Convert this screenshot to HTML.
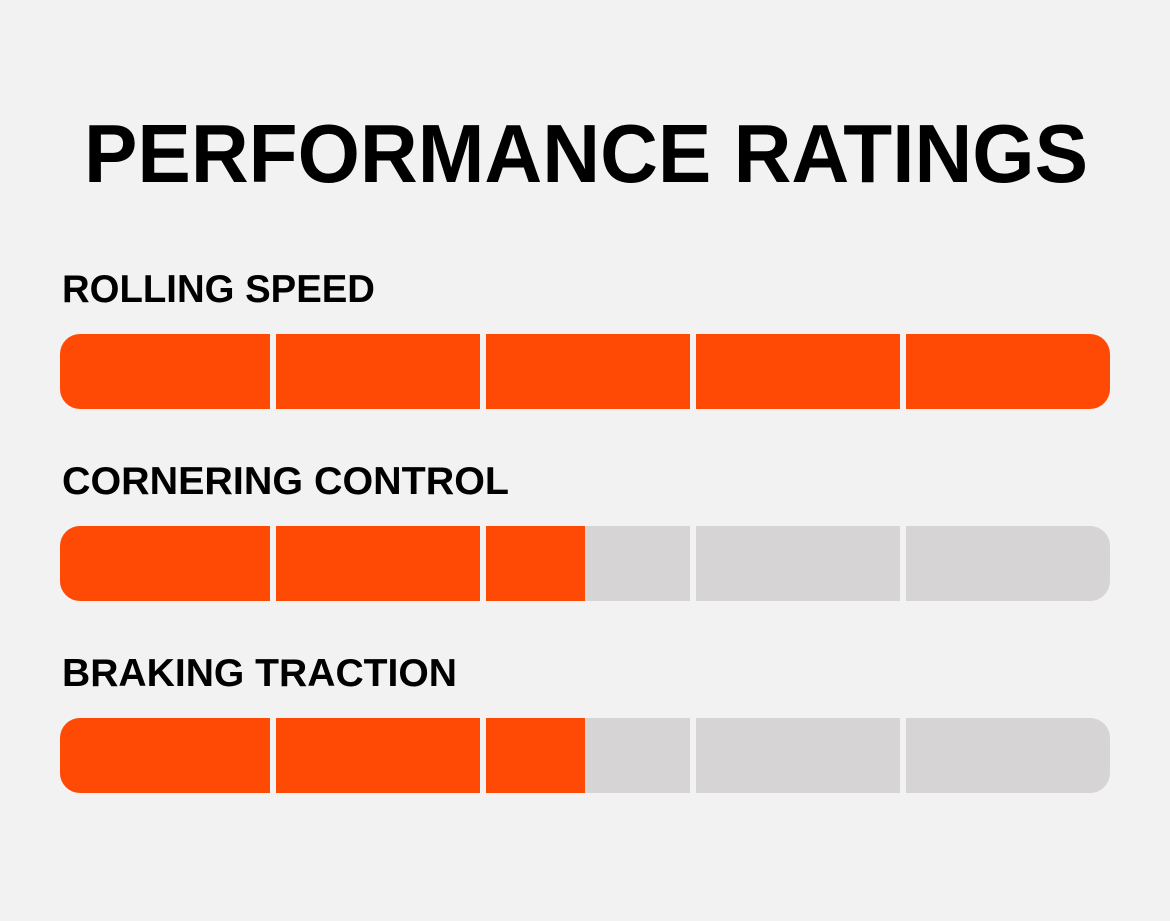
<!DOCTYPE html>
<html><head><style>html,body{margin:0;padding:0;background:#f2f2f2}</style></head>
<body>
<svg width="1170" height="921" xmlns="http://www.w3.org/2000/svg" style="display:block">
<rect width="1170" height="921" fill="#f2f2f2"/>
<defs><clipPath id="c"><rect x="60" y="0" width="1050" height="75" rx="20"/></clipPath></defs>
<g font-family="Liberation Sans, sans-serif" font-weight="bold" fill="#000">
<text x="84" y="182" font-size="83" textLength="1004" lengthAdjust="spacingAndGlyphs">PERFORMANCE RATINGS</text>
<text x="62" y="302" font-size="39" textLength="313" lengthAdjust="spacingAndGlyphs">ROLLING SPEED</text>
<text x="62" y="494" font-size="39" textLength="447" lengthAdjust="spacingAndGlyphs">CORNERING CONTROL</text>
<text x="62" y="686" font-size="39" textLength="395" lengthAdjust="spacingAndGlyphs">BRAKING TRACTION</text>
</g>
<g transform="translate(0,334)">
<g clip-path="url(#c)"><rect x="60" y="0" width="1050" height="75" fill="#ff4a05"/></g>
<g fill="#f2f2f2"><rect x="270" y="0" width="6" height="75"/><rect x="480" y="0" width="6" height="75"/><rect x="690" y="0" width="6" height="75"/><rect x="900" y="0" width="6" height="75"/></g>
</g>
<g transform="translate(0,526)">
<g clip-path="url(#c)"><rect x="60" y="0" width="1050" height="75" fill="#d6d4d4"/><rect x="60" y="0" width="525" height="75" fill="#ff4a05"/></g>
<g fill="#f2f2f2"><rect x="270" y="0" width="6" height="75"/><rect x="480" y="0" width="6" height="75"/><rect x="690" y="0" width="6" height="75"/><rect x="900" y="0" width="6" height="75"/></g>
</g>
<g transform="translate(0,718)">
<g clip-path="url(#c)"><rect x="60" y="0" width="1050" height="75" fill="#d6d4d4"/><rect x="60" y="0" width="525" height="75" fill="#ff4a05"/></g>
<g fill="#f2f2f2"><rect x="270" y="0" width="6" height="75"/><rect x="480" y="0" width="6" height="75"/><rect x="690" y="0" width="6" height="75"/><rect x="900" y="0" width="6" height="75"/></g>
</g>
</svg>
</body></html>
